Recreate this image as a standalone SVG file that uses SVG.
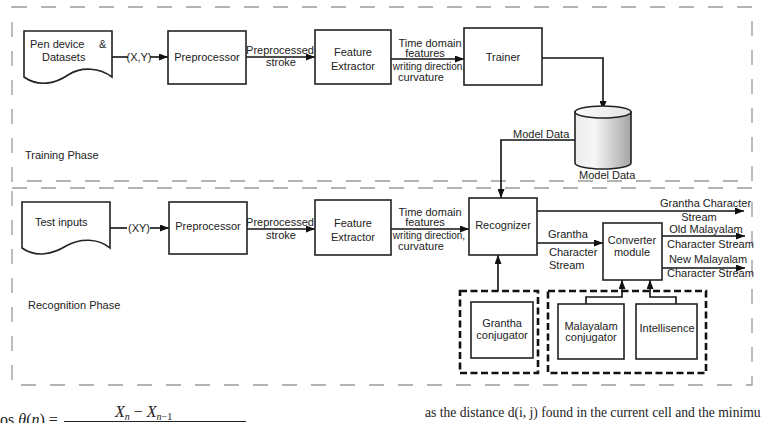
<svg xmlns="http://www.w3.org/2000/svg" width="761" height="423" viewBox="0 0 761 423">
<defs>
<marker id="ah" markerWidth="9" markerHeight="7" refX="9" refY="3.5" orient="auto" markerUnits="userSpaceOnUse">
<path d="M0,0 L9,3.5 L0,7 Z" fill="#111"/>
</marker>
<linearGradient id="cyl" x1="0" y1="0" x2="1" y2="0">
<stop offset="0" stop-color="#ececec"/>
<stop offset="0.35" stop-color="#f7f7f7"/>
<stop offset="1" stop-color="#a4a4a4"/>
</linearGradient>
<linearGradient id="cyltop" x1="0" y1="0" x2="1" y2="0">
<stop offset="0" stop-color="#fcfcfc"/>
<stop offset="1" stop-color="#e4e4e4"/>
</linearGradient>
</defs>
<style>
.phase{fill:none;stroke:#9a9a9a;stroke-width:1.3;stroke-dasharray:15,14}
.box{fill:#fff;stroke:#222;stroke-width:1.6}
.grp{fill:none;stroke:#111;stroke-width:2.6;stroke-dasharray:7,3.5}
.conn{fill:none;stroke:#111;stroke-width:1.6}
.t{font-family:"Liberation Sans",Arial,sans-serif;font-size:11px;fill:#222}
.s{font-size:10px}
.m{text-anchor:middle}
.serif{font-family:"Liberation Serif","Times New Roman",serif;fill:#222}
</style>

<g id="phases">
<path class="phase" d="M12,7 H752 V181 H12 Z"/>
<path class="phase" d="M12,188 H752 V385 H12 Z"/>
<text class="t" x="25" y="159">Training Phase</text>
<text class="t" x="28" y="309">Recognition Phase</text>
</g>

<g id="connectors">
<path class="conn" d="M112,57 H128"/>
<path class="conn" d="M150,57 H168" marker-end="url(#ah)"/>
<path class="conn" d="M246,57 H315" marker-end="url(#ah)"/>
<path class="conn" d="M391,59 H464" marker-end="url(#ah)"/>
<path class="conn" d="M542,58 H603 V110" marker-end="url(#ah)"/>
<path class="conn" d="M575,140 H501 V198" marker-end="url(#ah)"/>
<path class="conn" d="M110,228 H127"/>
<path class="conn" d="M150,228 H169" marker-end="url(#ah)"/>
<path class="conn" d="M247,229 H315" marker-end="url(#ah)"/>
<path class="conn" d="M391,229 H469" marker-end="url(#ah)"/>
<path class="conn" d="M537,211 H744" marker-end="url(#ah)"/>
<path class="conn" d="M537,243 H603" marker-end="url(#ah)"/>
<path class="conn" d="M662,236 H745" marker-end="url(#ah)"/>
<path class="conn" d="M662,268 H745" marker-end="url(#ah)"/>
<path class="conn" d="M498,291 V255" marker-end="url(#ah)"/>
<path class="conn" d="M586,304 V297 H622 V280" marker-end="url(#ah)"/>
<path class="conn" d="M676,304 V297 H650 V280" marker-end="url(#ah)"/>
<text class="t m" x="139" y="61">(X,Y)</text>
<text class="t m" x="280" y="54">Preprocessed</text>
<text class="t m" x="281" y="66">stroke</text>
<text class="t m" x="430" y="47">Time domain</text>
<text class="t m" x="425" y="57">features</text>
<text class="t s m" x="429" y="70">writing direction,</text>
<text class="t m" x="421" y="81">curvature</text>
<text class="t" x="513" y="138">Model Data</text>
<text class="t" x="579" y="179">Model Data</text>
<text class="t m" x="139" y="232">(XY)</text>
<text class="t m" x="280" y="226">Preprocessed</text>
<text class="t m" x="281" y="239">stroke</text>
<text class="t m" x="430" y="216">Time domain</text>
<text class="t m" x="425" y="226">features</text>
<text class="t s m" x="429" y="239">writing direction,</text>
<text class="t m" x="421" y="250">curvature</text>
<text class="t" x="660" y="207">Grantha Character</text>
<text class="t m" x="699" y="221">Stream</text>
<text class="t" x="548" y="238">Grantha</text>
<text class="t" x="549" y="256">Character</text>
<text class="t" x="549" y="269">Stream</text>
<text class="t m" x="706" y="233">Old Malayalam</text>
<text class="t" x="667" y="248">Character Stream</text>
<text class="t m" x="708" y="263">New Malayalam</text>
<text class="t" x="667" y="277">Character Stream</text>
</g>

<g id="pen-device">
<path class="box" d="M24,31 H112 V77 C100,68 82,66 68,75 C55,84 38,87 24,77 Z"/>
<text class="t" x="30" y="48">Pen device</text>
<text class="t" x="99" y="48">&amp;</text>
<text class="t" x="42" y="61">Datasets</text>
</g>

<g id="preprocessor-train">
<rect class="box" x="168" y="31" width="78" height="53"/>
<text class="t m" x="207" y="61">Preprocessor</text>
</g>

<g id="feature-extractor-train">
<rect class="box" x="315" y="30" width="76" height="54"/>
<text class="t m" x="353" y="56">Feature</text>
<text class="t m" x="353" y="70">Extractor</text>
</g>

<g id="trainer">
<rect class="box" x="464" y="28" width="78" height="57"/>
<text class="t m" x="503" y="61">Trainer</text>
</g>

<g id="model-data">
<path d="M575,112 V163 A28,6 0 0 0 631,163 V112 Z" fill="url(#cyl)" stroke="#222" stroke-width="1.6"/>
<ellipse cx="603" cy="112" rx="28" ry="6" fill="url(#cyltop)" stroke="#222" stroke-width="1.6"/>
</g>

<g id="test-inputs">
<path class="box" d="M22,202 H110 V248 C98,238 80,238 66,246 C53,254 36,258 22,248 Z"/>
<text class="t" x="35" y="226">Test inputs</text>
</g>

<g id="preprocessor-recog">
<rect class="box" x="169" y="202" width="78" height="52"/>
<text class="t m" x="208" y="230">Preprocessor</text>
</g>

<g id="feature-extractor-recog">
<rect class="box" x="315" y="200" width="76" height="55"/>
<text class="t m" x="353" y="227">Feature</text>
<text class="t m" x="353" y="241">Extractor</text>
</g>

<g id="recognizer">
<rect class="box" x="469" y="198" width="68" height="57"/>
<text class="t m" x="503" y="229">Recognizer</text>
</g>

<g id="converter">
<rect class="box" x="603" y="223" width="59" height="57"/>
<text class="t m" x="632" y="244">Converter</text>
<text class="t m" x="632" y="256">module</text>
</g>

<g id="grantha-group">
<rect class="grp" x="460" y="291" width="78" height="82"/>
<rect class="box" x="471" y="302" width="62" height="56"/>
<text class="t m" x="502" y="327">Grantha</text>
<text class="t m" x="502" y="339">conjugator</text>
</g>

<g id="malayalam-group">
<rect class="grp" x="548" y="291" width="158" height="82"/>
<rect class="box" x="558" y="304" width="66" height="55"/>
<text class="t m" x="591" y="330">Malayalam</text>
<text class="t m" x="591" y="341">conjugator</text>
<rect class="box" x="636" y="304" width="61" height="55"/>
<text class="t m" x="667" y="332">Intellisence</text>
</g>

<g id="page-text">
<text class="serif" x="-7" y="425" font-size="16">cos <tspan font-style="italic">θ</tspan>(<tspan font-style="italic">n</tspan>) =</text>
<text class="serif" x="115" y="417" font-size="16"><tspan font-style="italic">X</tspan><tspan font-style="italic" font-size="10" dy="3">n</tspan><tspan dy="-3"> − </tspan><tspan font-style="italic">X</tspan><tspan font-style="italic" font-size="10" dy="3">n</tspan><tspan font-size="10">−1</tspan></text>
<line x1="64" y1="421.5" x2="246" y2="421.5" stroke="#222" stroke-width="1"/>
<text class="serif" x="425" y="417" font-size="13.6">as the distance d(i, j) found in the current cell and the minimu</text>
</g>
</svg>
